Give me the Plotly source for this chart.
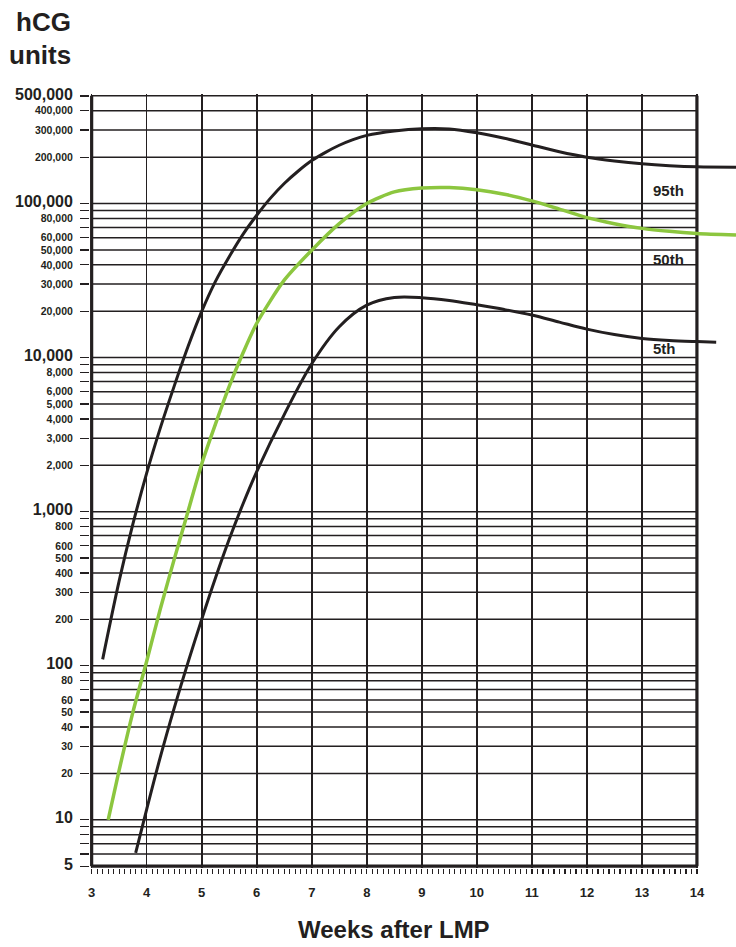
import math
import plotly.graph_objects as go

# ---------------- data ----------------
weeks_95 = [3.2, 3.5, 3.75, 4.0, 4.25, 4.5, 4.75, 5.0, 5.25, 5.5, 5.75, 6.0, 6.25, 6.5, 6.75,
            7.0, 7.25, 7.5, 7.75, 8.0, 8.5, 9.0, 9.5, 10.0, 10.5, 11.0, 11.5, 12.0, 12.5,
            13.0, 13.5, 14.0, 14.71]
hcg_95 = [110, 355, 832, 1780, 3510, 6530, 11750, 19950, 31260, 45190, 63100, 83950, 108400,
          134900, 162000, 190000, 215000, 239000, 260000, 277000, 296000, 306000, 305000,
          288000, 265000, 240000, 217000, 200000, 189000, 181000, 176000, 173000, 172000]

weeks_50 = [3.3, 3.5, 3.75, 4.0, 4.25, 4.5, 4.75, 5.0, 5.25, 5.5, 5.75, 6.0, 6.5, 7.0, 7.5,
            8.0, 8.5, 9.0, 9.5, 10.0, 10.5, 11.0, 11.5, 12.0, 12.5, 13.0, 13.5, 14.0, 14.71]
hcg_50 = [10, 21, 50, 107, 235, 490, 1000, 2040, 3700, 6500, 10700, 16700, 31800, 49800,
          74000, 100000, 119000, 126000, 127000, 123000, 115000, 104000, 92000, 81000,
          74000, 69000, 66000, 64000, 62500]

weeks_5 = [3.8, 4.0, 4.25, 4.5, 4.75, 5.0, 5.25, 5.5, 5.75, 6.0, 6.5, 7.0, 7.5, 8.0, 8.5,
           9.0, 9.5, 10.0, 10.5, 11.0, 11.5, 12.0, 12.5, 13.0, 13.5, 14.0, 14.35]
hcg_5 = [6.1, 11.7, 25.7, 53.1, 104.7, 200, 371, 661, 1122, 1820, 4266, 9120, 15850, 21880,
         24550, 24500, 23500, 22000, 20500, 18900, 17000, 15300, 14100, 13300, 12900,
         12700, 12600]

x_ticks = [3, 4, 5, 6, 7, 8, 9, 10, 11, 12, 13, 14]
y_grid = [m * 10 ** e for e in range(0, 6) for m in range(1, 10) if 5 <= m * 10 ** e <= 500000]
y_label_vals = [500000, 400000, 300000, 200000, 100000, 80000, 60000, 50000, 40000, 30000,
                20000, 10000, 8000, 6000, 5000, 4000, 3000, 2000, 1000, 800, 600, 500, 400,
                300, 200, 100, 80, 60, 50, 40, 30, 20, 10, 5]
y_label_text = ["500,000", "400,000", "300,000", "200,000", "100,000", "80,000", "60,000",
                "50,000", "40,000", "30,000", "20,000", "10,000", "8,000", "6,000", "5,000",
                "4,000", "3,000", "2,000", "1,000", "800", "600", "500", "400", "300", "200",
                "100", "80", "60", "50", "40", "30", "20", "10", "5"]
y_big_labels = ["500,000", "100,000", "10,000", "1,000", "100", "10", "5"]

series_names = ["95th", "50th", "5th"]
label_vals = [122000, 43600, 11500]

# ---------------- style ----------------
INK = "#231f20"
GREEN = "#8cc63f"
FONT = "Liberation Sans, Arial, sans-serif"
W, H = 736, 947
L, R, T, B = 90, 0, 94, 79
PW, PH = W - L - R, H - T - B

def px_x(p):
    return (p - L) / PW

def px_y(p):
    return (H - B - p) / PH

fig = go.Figure()

# horizontal grid lines (stop at week 14)
gx, gy = [], []
for v in y_grid:
    gx += [x_ticks[0], x_ticks[-1], None]
    gy += [v, v, None]
fig.add_trace(go.Scatter(x=gx, y=gy, mode="lines", line=dict(color=INK, width=1.5),
                         hoverinfo="skip", showlegend=False))

# frame: left, right, bottom (thick)
bx = [x_ticks[0], x_ticks[0], None, x_ticks[-1], x_ticks[-1], None, x_ticks[0], x_ticks[-1]]
by = [min(y_grid), max(y_grid), None, min(y_grid), max(y_grid), None, min(y_grid), min(y_grid)]
fig.add_trace(go.Scatter(x=bx, y=by, mode="lines", line=dict(color=INK, width=3.2),
                         hoverinfo="skip", showlegend=False))

# curves
fig.add_trace(go.Scatter(x=weeks_95, y=hcg_95, mode="lines", name="95th",
                         line=dict(color=INK, width=3, shape="spline", smoothing=0.9),
                         showlegend=False))
fig.add_trace(go.Scatter(x=weeks_50, y=hcg_50, mode="lines", name="50th",
                         line=dict(color=GREEN, width=3.5, shape="spline", smoothing=0.7),
                         showlegend=False))
fig.add_trace(go.Scatter(x=weeks_5, y=hcg_5, mode="lines", name="5th",
                         line=dict(color=INK, width=3, shape="spline", smoothing=0.9),
                         showlegend=False))

# y tick labels
ytext = []
for v in y_grid:
    if v in y_label_vals:
        t = y_label_text[y_label_vals.index(v)]
        if t in y_big_labels:
            t = "<span style='font-size:16px'>" + t + "</span>"
        ytext.append(t)
    else:
        ytext.append("")

minor_x = [round(x_ticks[0] + i / 10, 1) for i in range(1, (x_ticks[-1] - x_ticks[0]) * 10)
           if i % 10 != 0]

fig.update_layout(
    width=W, height=H,
    margin=dict(l=L, r=R, t=T, b=B, pad=0),
    paper_bgcolor="white", plot_bgcolor="white",
    font=dict(family=FONT, color=INK),
    hovermode=False,
    xaxis=dict(
        range=[2.97, 14.71], tickmode="array", tickvals=x_ticks,
        ticktext=[str(v) for v in x_ticks], automargin=False,
        showgrid=True, gridcolor=INK, gridwidth=1.6, zeroline=False, showline=False,
        ticks="outside", ticklen=5, tickwidth=1.3, tickcolor=INK,
        tickfont=dict(family=FONT, size=13, color=INK, weight="bold"),
        ticklabelstandoff=7,
        minor=dict(tickvals=minor_x, ticks="outside", ticklen=5, tickwidth=1.3,
                   tickcolor=INK, showgrid=False),
    ),
    yaxis=dict(
        type="log", range=[math.log10(5) - 0.012, math.log10(500000) + 0.012],
        tickmode="array", tickvals=y_grid, ticktext=ytext, automargin=False,
        showgrid=False, zeroline=False, showline=False,
        ticks="outside", ticklen=9, tickwidth=1.3, tickcolor=INK,
        tickfont=dict(family=FONT, size=10.5, color=INK, weight="bold"),
        ticklabelstandoff=5,
    ),
)

ann = []
ann.append(dict(text="<b>hCG</b>", x=px_x(73), y=px_y(22), xref="paper", yref="paper",
                xanchor="right", yanchor="middle", showarrow=False,
                font=dict(family=FONT, size=26, color=INK)))
ann.append(dict(text="<b>units</b>", x=px_x(73), y=px_y(55), xref="paper", yref="paper",
                xanchor="right", yanchor="middle", showarrow=False,
                font=dict(family=FONT, size=26, color=INK)))
ann.append(dict(text="<b>Weeks after LMP</b>", x=px_x(394), y=px_y(929), xref="paper",
                yref="paper", xanchor="center", yanchor="middle", showarrow=False,
                font=dict(family=FONT, size=24, color=INK)))
ann.append(dict(text="<b>Date:</b>", x=px_x(648), y=px_y(6), xref="paper", yref="paper",
                xanchor="center", yanchor="bottom", showarrow=False,
                font=dict(family=FONT, size=20, color="#6d6e71")))
for name, v in zip(series_names, label_vals):
    ann.append(dict(text="<b>" + name + "</b>", x=13.17, y=math.log10(v), xref="x", yref="y",
                    xanchor="left", yanchor="middle", showarrow=False,
                    font=dict(family=FONT, size=15, color=INK)))
fig.update_layout(annotations=ann)

fig.write_html("out.html", config={"displayModeBar": False, "staticPlot": True},
               post_script="document.body.style.margin='0';document.body.style.overflow='hidden';")
